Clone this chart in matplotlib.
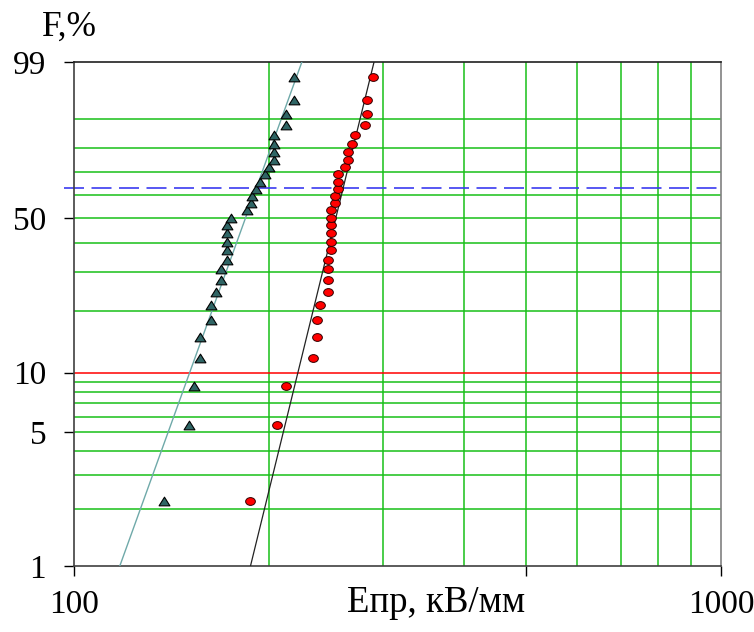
import numpy as np
import matplotlib
matplotlib.use("Agg")
from matplotlib import pyplot as plt
from matplotlib.path import Path

plt.rcParams['font.family'] = ['Liberation Serif', 'DejaVu Serif']

# plotting positions (median ranks, %), 31 specimens in each series
f_rank = [2.2, 5.4, 8.6, 11.8, 15.0, 18.2, 21.3, 24.5, 27.7, 30.9, 34.1,
          37.3, 40.4, 43.6, 46.8, 50.0, 53.2, 56.4, 59.6, 62.7, 65.9,
          69.1, 72.3, 75.5, 78.7, 81.8, 85.0, 88.2, 91.4, 94.6, 97.8]

# breakdown strength, kV/mm (triangles)
e_tri = [137.6, 150.6, 153.4, 156.6, 156.6, 162.7, 162.7, 166.0, 168.9, 168.9,
         172.2, 172.2, 172.2, 172.2, 172.2, 175.0, 185.1, 187.9, 188.4, 191.1,
         194.1, 197.2, 200.4, 203.4, 203.4, 203.4, 203.8, 212.7, 212.7, 218.8,
         218.8]

# breakdown strength, kV/mm (circles)
e_circ = [187.3, 206.0, 212.4, 234.1, 237.5, 237.5, 240.3, 246.7, 246.7, 246.7,
          246.7, 250.0, 250.0, 250.0, 250.0, 250.0, 250.0, 252.9, 252.9, 255.6,
          255.6, 255.6, 262.4, 265.2, 265.2, 269.0, 271.9, 281.4, 283.7, 283.7,
          290.2]

# fitted Weibull lines: E at F=1% and F=99%
fit_f = [1, 99]
fit_tri = [117.7, 225.0]
fit_circ = [187.4, 290.9]

grid_e = [200, 300, 400, 500, 600, 700, 800, 900]
grid_f = [2, 3, 4, 5, 6, 7, 8, 9, 20, 30, 40, 50, 60, 70, 80, 90]
f_red = 10
f_char = 63.2

y_ticks = [1, 5, 10, 50, 99]
x_ticks = [100, 500, 1000]


def weib(f):
    f = np.clip(np.asarray(f, dtype=float), 1e-9, 100 - 1e-9)
    return np.log(-np.log(1 - f / 100.0))


def weib_inv(w):
    return 100.0 * (1 - np.exp(-np.exp(w)))


fig = plt.figure(figsize=(7.54, 6.32), dpi=100)
ax = fig.add_axes([74 / 754, 66 / 632, 647 / 754, 504 / 632])
ax.set_xscale('log')
ax.set_yscale('function', functions=(weib, weib_inv))
ax.set_xlim(100, 1000)
ax.set_ylim(1, 99)

green = '#19c019'
for e in grid_e:
    ax.axvline(e, color=green, lw=1.1, zorder=1)
for f in grid_f:
    ax.axhline(f, color=green, lw=1.1, zorder=1)
ax.axhline(f_red, color='#ff0000', lw=1.1, zorder=2)
ax.axhline(f_char, xmin=-0.016, xmax=1, color='#3b3bf0', lw=1.2,
           dashes=(12, 4.5), zorder=2, clip_on=False)

ax.plot(fit_tri, fit_f, color='#6fa9a9', lw=1.0, zorder=3)
ax.plot(fit_circ, fit_f, color='#222222', lw=0.9, zorder=3)

tri = Path([(-0.5, -0.4), (0.5, -0.4), (0, 0.4), (-0.5, -0.4)],
           [Path.MOVETO, Path.LINETO, Path.LINETO, Path.CLOSEPOLY])
circ = Path.unit_circle()
ell = Path(circ.vertices * np.array([1.0, 0.8]), circ.codes)

ax.plot(e_tri, f_rank, ls='none', marker=tri, ms=7.8, mfc='#2f6565',
        mec='black', mew=0.8, zorder=4)
ax.plot(e_circ, f_rank, ls='none', marker=ell, ms=7.0, mfc='#ff0000',
        mec='#300000', mew=0.7, zorder=4)

ax.set_yticks(y_ticks)
ax.set_yticklabels([str(t) for t in y_ticks])
ax.yaxis.set_minor_locator(matplotlib.ticker.NullLocator())
ax.set_xticks(x_ticks)
ax.set_xticklabels(['100', '', '1000'])
ax.xaxis.set_minor_locator(matplotlib.ticker.NullLocator())
ax.tick_params(axis='y', length=7, width=1, pad=13, labelsize=24)
ax.tick_params(axis='x', length=7, width=1, pad=10, labelsize=24)

ytick_cols = ['#404040', green, '#ff0000', green, '#000000']
for t, c in zip(ax.yaxis.get_major_ticks(), ytick_cols):
    t.tick1line.set_color(c)
xtick_cols = ['#404040', green, '#707070']
for t, c in zip(ax.xaxis.get_major_ticks(), xtick_cols):
    t.tick1line.set_color(c)

ax.spines['left'].set_color('#404040')
ax.spines['bottom'].set_color('#404040')
ax.spines['top'].set_color('#202020')
ax.spines['right'].set_color('#808080')
for s in ax.spines.values():
    s.set_linewidth(1.2)

fig.text(42 / 754, 1 - 36 / 632, 'F,%', fontsize=25.5, va='baseline')
fig.text(436 / 754, 1 - 612 / 632, 'Епр, кВ/мм', fontsize=26.5,
         ha='center', va='baseline')

fig.savefig('out.png', dpi=100)
